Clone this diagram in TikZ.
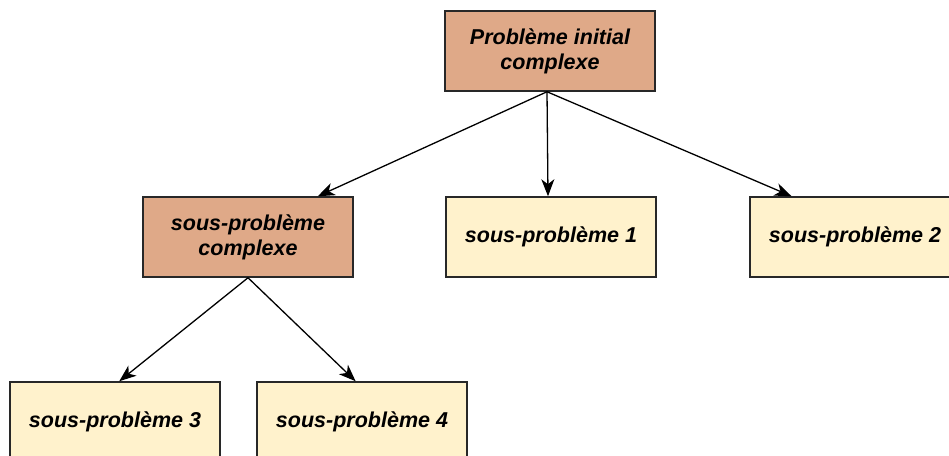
\documentclass[tikz,border=0pt]{standalone}
\usepackage{fontspec}
\setmainfont{Liberation Sans}
\usetikzlibrary{arrows.meta,calc}
\definecolor{pbbrown}{RGB}{223,169,136}
\definecolor{pbyellow}{RGB}{255,242,204}
\definecolor{pbedge}{RGB}{40,40,40}

\begin{document}
\begin{tikzpicture}[x=1pt, y=-1pt,
  font=\fontsize{21.5}{25}\selectfont\bfseries\itshape,
  pbbox/.style={draw=pbedge, line width=1.5pt, minimum width=210pt, minimum height=80pt, align=center, inner sep=2pt},
  complexbox/.style={pbbox, fill=pbbrown},
  simplebox/.style={pbbox, fill=pbyellow},
  pbarrow/.style={-{Stealth[length=17pt, width=13pt, inset=5pt]}, line width=1.3pt}]
\clip (0,0) rectangle (949,455);
\fill[white] (0,0) rectangle (949,455);
% boxes
\node[complexbox] (init) at (550,51) {Problème initial\\complexe};
\node[complexbox] (subcx) at (248,237) {sous-problème\\complexe};
\node[simplebox] (sub1) at (551,237) {sous-problème 1};
\node[simplebox] (sub2) at (855,237) {sous-problème 2};
\node[simplebox] (sub3) at (115,422) {sous-problème 3};
\node[simplebox] (sub4) at (362,422) {sous-problème 4};
% arrow ends on the top edges
\coordinate (endcx) at ($(subcx.north west)!0.83!(subcx.north east)$);
\coordinate (end2) at ($(sub2.north west)!0.2!(sub2.north east)$);
\coordinate (end3) at ($(sub3.north west)!0.52!(sub3.north east)$);
\coordinate (end4) at ($(sub4.north west)!0.47!(sub4.north east)$);
% arrows
\draw[pbarrow] ($(init.south)+(-3,0)$) -- (endcx);
\draw[pbarrow] ($(init.south)+(-3,0)$) -- ($(sub1.north)+(-3,0)$);
\draw[pbarrow] ($(init.south)+(-3,0)$) -- (end2);
\draw[pbarrow] (subcx.south) -- (end3);
\draw[pbarrow] (subcx.south) -- (end4);
\end{tikzpicture}
\end{document}
